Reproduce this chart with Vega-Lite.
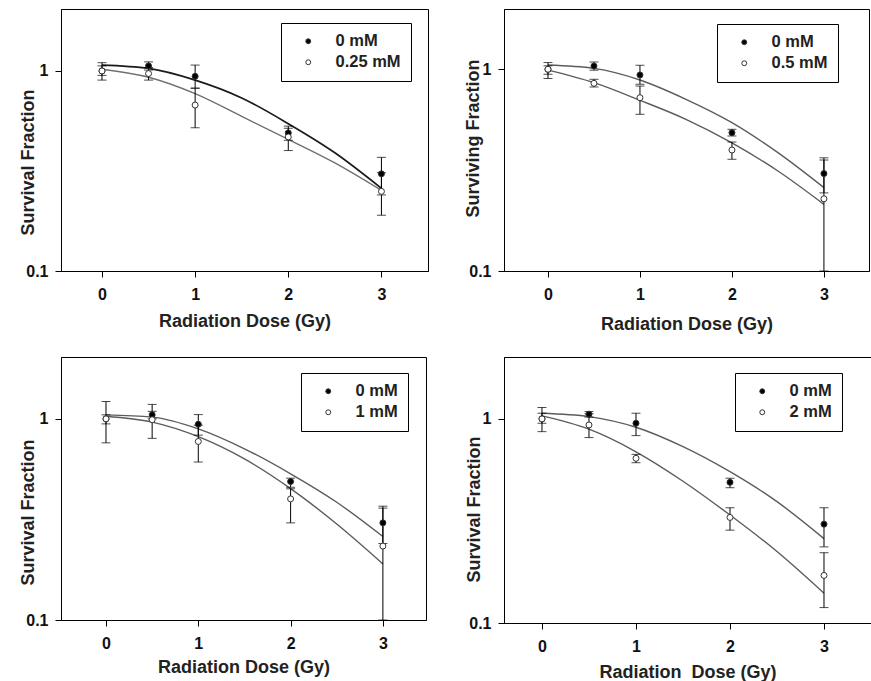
{
  "$schema": "https://vega.github.io/schema/vega-lite/v6.json",
  "padding": {"left": 18, "top": 8, "right": 0, "bottom": 0},
  "datasets": {
    "pts": [
      {"panel": 1, "series": "0 mM", "dose": 0, "sf": 1.0, "lo": 0.95, "hi": 1.06},
      {"panel": 1, "series": "0 mM", "dose": 0.5, "sf": 1.06, "lo": 1.01, "hi": 1.11},
      {"panel": 1, "series": "0 mM", "dose": 1, "sf": 0.94, "lo": 0.82, "hi": 1.07},
      {"panel": 1, "series": "0 mM", "dose": 2, "sf": 0.49, "lo": 0.45, "hi": 0.53},
      {"panel": 1, "series": "0 mM", "dose": 3, "sf": 0.306, "lo": 0.24, "hi": 0.37},
      {"panel": 1, "series": "0.25 mM", "dose": 0, "sf": 1.0, "lo": 0.9, "hi": 1.1},
      {"panel": 1, "series": "0.25 mM", "dose": 0.5, "sf": 0.97, "lo": 0.9, "hi": 1.04},
      {"panel": 1, "series": "0.25 mM", "dose": 1, "sf": 0.675, "lo": 0.52, "hi": 0.82},
      {"panel": 1, "series": "0.25 mM", "dose": 2, "sf": 0.468, "lo": 0.4, "hi": 0.517},
      {"panel": 1, "series": "0.25 mM", "dose": 3, "sf": 0.25, "lo": 0.19, "hi": 0.31},
      {"panel": 2, "series": "0 mM", "dose": 0, "sf": 1.0, "lo": 0.945, "hi": 1.04},
      {"panel": 2, "series": "0 mM", "dose": 0.5, "sf": 1.038, "lo": 0.99, "hi": 1.087},
      {"panel": 2, "series": "0 mM", "dose": 1, "sf": 0.937, "lo": 0.843, "hi": 1.047},
      {"panel": 2, "series": "0 mM", "dose": 2, "sf": 0.485, "lo": 0.467, "hi": 0.504},
      {"panel": 2, "series": "0 mM", "dose": 3, "sf": 0.304, "lo": 0.244, "hi": 0.364},
      {"panel": 2, "series": "0.5 mM", "dose": 0, "sf": 1.0, "lo": 0.9, "hi": 1.08},
      {"panel": 2, "series": "0.5 mM", "dose": 0.5, "sf": 0.852, "lo": 0.817, "hi": 0.892},
      {"panel": 2, "series": "0.5 mM", "dose": 1, "sf": 0.723, "lo": 0.598, "hi": 0.826},
      {"panel": 2, "series": "0.5 mM", "dose": 2, "sf": 0.398, "lo": 0.358, "hi": 0.436},
      {"panel": 2, "series": "0.5 mM", "dose": 3, "sf": 0.228, "lo": 0.1, "hi": 0.355},
      {"panel": 3, "series": "0 mM", "dose": 0, "sf": 1.0, "lo": 0.944, "hi": 1.047},
      {"panel": 3, "series": "0 mM", "dose": 0.5, "sf": 1.047, "lo": 1.0, "hi": 1.09},
      {"panel": 3, "series": "0 mM", "dose": 1, "sf": 0.94, "lo": 0.83, "hi": 1.05},
      {"panel": 3, "series": "0 mM", "dose": 2, "sf": 0.488, "lo": 0.457, "hi": 0.507},
      {"panel": 3, "series": "0 mM", "dose": 3, "sf": 0.304, "lo": 0.24, "hi": 0.368},
      {"panel": 3, "series": "1 mM", "dose": 0, "sf": 1.0, "lo": 0.76, "hi": 1.22},
      {"panel": 3, "series": "1 mM", "dose": 0.5, "sf": 0.99, "lo": 0.8, "hi": 1.18},
      {"panel": 3, "series": "1 mM", "dose": 1, "sf": 0.772, "lo": 0.61, "hi": 0.93},
      {"panel": 3, "series": "1 mM", "dose": 2, "sf": 0.4, "lo": 0.304, "hi": 0.449},
      {"panel": 3, "series": "1 mM", "dose": 3, "sf": 0.233, "lo": 0.1, "hi": 0.36},
      {"panel": 4, "series": "0 mM", "dose": 0, "sf": 1.0, "lo": 0.952, "hi": 1.066},
      {"panel": 4, "series": "0 mM", "dose": 0.5, "sf": 1.054, "lo": 1.02, "hi": 1.086},
      {"panel": 4, "series": "0 mM", "dose": 1, "sf": 0.952, "lo": 0.828, "hi": 1.066},
      {"panel": 4, "series": "0 mM", "dose": 2, "sf": 0.489, "lo": 0.46, "hi": 0.512},
      {"panel": 4, "series": "0 mM", "dose": 3, "sf": 0.305, "lo": 0.236, "hi": 0.367},
      {"panel": 4, "series": "2 mM", "dose": 0, "sf": 1.0, "lo": 0.866, "hi": 1.137},
      {"panel": 4, "series": "2 mM", "dose": 0.5, "sf": 0.934, "lo": 0.81, "hi": 1.06},
      {"panel": 4, "series": "2 mM", "dose": 1, "sf": 0.641, "lo": 0.61, "hi": 0.67},
      {"panel": 4, "series": "2 mM", "dose": 2, "sf": 0.329, "lo": 0.285, "hi": 0.367},
      {"panel": 4, "series": "2 mM", "dose": 3, "sf": 0.171, "lo": 0.119, "hi": 0.221}
    ],
    "fit": [
      {"panel": 1, "series": "0 mM", "dose": 0, "sf": 1.07},
      {"panel": 1, "series": "0 mM", "dose": 0.5, "sf": 1.03},
      {"panel": 1, "series": "0 mM", "dose": 1, "sf": 0.9},
      {"panel": 1, "series": "0 mM", "dose": 1.5, "sf": 0.733},
      {"panel": 1, "series": "0 mM", "dose": 2, "sf": 0.545},
      {"panel": 1, "series": "0 mM", "dose": 2.5, "sf": 0.39},
      {"panel": 1, "series": "0 mM", "dose": 3, "sf": 0.259},
      {"panel": 1, "series": "0.25 mM", "dose": 0, "sf": 1.02},
      {"panel": 1, "series": "0.25 mM", "dose": 0.5, "sf": 0.93},
      {"panel": 1, "series": "0.25 mM", "dose": 1, "sf": 0.77},
      {"panel": 1, "series": "0.25 mM", "dose": 1.5, "sf": 0.593},
      {"panel": 1, "series": "0.25 mM", "dose": 2, "sf": 0.455},
      {"panel": 1, "series": "0.25 mM", "dose": 2.5, "sf": 0.347},
      {"panel": 1, "series": "0.25 mM", "dose": 3, "sf": 0.253},
      {"panel": 2, "series": "0 mM", "dose": 0, "sf": 1.05},
      {"panel": 2, "series": "0 mM", "dose": 0.5, "sf": 1.01},
      {"panel": 2, "series": "0 mM", "dose": 1, "sf": 0.885},
      {"panel": 2, "series": "0 mM", "dose": 1.5, "sf": 0.71},
      {"panel": 2, "series": "0 mM", "dose": 2, "sf": 0.544},
      {"panel": 2, "series": "0 mM", "dose": 2.5, "sf": 0.386},
      {"panel": 2, "series": "0 mM", "dose": 3, "sf": 0.259},
      {"panel": 2, "series": "0.5 mM", "dose": 0, "sf": 0.99},
      {"panel": 2, "series": "0.5 mM", "dose": 0.5, "sf": 0.858},
      {"panel": 2, "series": "0.5 mM", "dose": 1, "sf": 0.702},
      {"panel": 2, "series": "0.5 mM", "dose": 1.5, "sf": 0.565},
      {"panel": 2, "series": "0.5 mM", "dose": 2, "sf": 0.432},
      {"panel": 2, "series": "0.5 mM", "dose": 2.5, "sf": 0.313},
      {"panel": 2, "series": "0.5 mM", "dose": 3, "sf": 0.214},
      {"panel": 3, "series": "0 mM", "dose": 0, "sf": 1.047},
      {"panel": 3, "series": "0 mM", "dose": 0.5, "sf": 1.02},
      {"panel": 3, "series": "0 mM", "dose": 1, "sf": 0.892},
      {"panel": 3, "series": "0 mM", "dose": 1.5, "sf": 0.71},
      {"panel": 3, "series": "0 mM", "dose": 2, "sf": 0.533},
      {"panel": 3, "series": "0 mM", "dose": 2.5, "sf": 0.385},
      {"panel": 3, "series": "0 mM", "dose": 3, "sf": 0.26},
      {"panel": 3, "series": "1 mM", "dose": 0, "sf": 1.03},
      {"panel": 3, "series": "1 mM", "dose": 0.5, "sf": 0.963},
      {"panel": 3, "series": "1 mM", "dose": 1, "sf": 0.815},
      {"panel": 3, "series": "1 mM", "dose": 1.5, "sf": 0.632},
      {"panel": 3, "series": "1 mM", "dose": 2, "sf": 0.45},
      {"panel": 3, "series": "1 mM", "dose": 2.5, "sf": 0.3},
      {"panel": 3, "series": "1 mM", "dose": 3, "sf": 0.19},
      {"panel": 4, "series": "0 mM", "dose": 0, "sf": 1.066},
      {"panel": 4, "series": "0 mM", "dose": 0.5, "sf": 1.026},
      {"panel": 4, "series": "0 mM", "dose": 1, "sf": 0.91},
      {"panel": 4, "series": "0 mM", "dose": 1.5, "sf": 0.731},
      {"panel": 4, "series": "0 mM", "dose": 2, "sf": 0.551},
      {"panel": 4, "series": "0 mM", "dose": 2.5, "sf": 0.393},
      {"panel": 4, "series": "0 mM", "dose": 3, "sf": 0.259},
      {"panel": 4, "series": "2 mM", "dose": 0, "sf": 1.034},
      {"panel": 4, "series": "2 mM", "dose": 0.5, "sf": 0.89},
      {"panel": 4, "series": "2 mM", "dose": 1, "sf": 0.69},
      {"panel": 4, "series": "2 mM", "dose": 1.5, "sf": 0.495},
      {"panel": 4, "series": "2 mM", "dose": 2, "sf": 0.338},
      {"panel": 4, "series": "2 mM", "dose": 2.5, "sf": 0.224},
      {"panel": 4, "series": "2 mM", "dose": 3, "sf": 0.14}
    ]
  },
  "columns": 2,
  "align": "each",
  "bounds": "flush",
  "spacing": {"row": 86, "column": 76},
  "resolve": {
    "scale": {"x": "independent", "y": "independent", "fill": "independent"},
    "axis": {"x": "independent", "y": "independent"},
    "legend": {"fill": "independent"}
  },
  "concat": [
    {
      "width": 367,
      "height": 262,
      "encoding": {
        "x": {"field": "dose", "type": "quantitative", "scale": {"domain": [-0.44, 3.5], "nice": false, "zero": false}, "axis": {"title": "Radiation Dose (Gy)", "values": [0, 1, 2, 3], "format": "d", "titleBaseline": "middle", "titleY": 50}}
      },
      "layer": [
        {
          "data": {"name": "fit"},
          "transform": [{"filter": "datum.panel == 1 && datum.series == '0.25 mM'"}],
          "mark": {"type": "line", "interpolate": "monotone", "strokeWidth": 1.4, "color": "#707070"},
          "encoding": {
            "y": {"field": "sf", "type": "quantitative", "scale": {"type": "log", "domain": [0.1, 2.04], "nice": false}, "axis": {"title": "Survival Fraction", "values": [0.1, 1], "format": "~g", "titleBaseline": "middle", "titleX": -33, "titleY": 153}}
          }
        },
        {
          "data": {"name": "fit"},
          "transform": [{"filter": "datum.panel == 1 && datum.series == '0 mM'"}],
          "mark": {"type": "line", "interpolate": "monotone", "strokeWidth": 1.7, "color": "#1a1a1a"},
          "encoding": {
            "y": {"field": "sf", "type": "quantitative", "scale": {"type": "log", "domain": [0.1, 2.04], "nice": false}, "axis": {"title": "Survival Fraction", "values": [0.1, 1], "format": "~g", "titleBaseline": "middle", "titleX": -33, "titleY": 153}}
          }
        },
        {
          "data": {"name": "pts"},
          "transform": [{"filter": "datum.panel == 1"}],
          "mark": {"type": "rule", "color": "black", "strokeWidth": 1},
          "encoding": {
            "y": {"field": "lo", "type": "quantitative", "scale": {"type": "log", "domain": [0.1, 2.04], "nice": false}, "axis": {"title": "Survival Fraction", "values": [0.1, 1], "format": "~g", "titleBaseline": "middle", "titleX": -33, "titleY": 153}},
            "y2": {"field": "hi"}
          }
        },
        {
          "data": {"name": "pts"},
          "transform": [{"filter": "datum.panel == 1"}],
          "mark": {"type": "tick", "orient": "horizontal", "size": 9, "thickness": 1, "color": "black"},
          "encoding": {
            "y": {"field": "lo", "type": "quantitative", "scale": {"type": "log", "domain": [0.1, 2.04], "nice": false}, "axis": {"title": "Survival Fraction", "values": [0.1, 1], "format": "~g", "titleBaseline": "middle", "titleX": -33, "titleY": 153}}
          }
        },
        {
          "data": {"name": "pts"},
          "transform": [{"filter": "datum.panel == 1"}],
          "mark": {"type": "tick", "orient": "horizontal", "size": 9, "thickness": 1, "color": "black"},
          "encoding": {
            "y": {"field": "hi", "type": "quantitative", "scale": {"type": "log", "domain": [0.1, 2.04], "nice": false}, "axis": {"title": "Survival Fraction", "values": [0.1, 1], "format": "~g", "titleBaseline": "middle", "titleX": -33, "titleY": 153}}
          }
        },
        {
          "data": {"name": "pts"},
          "transform": [{"filter": "datum.panel == 1"}],
          "mark": {"type": "point", "shape": "circle", "filled": true, "size": 36, "stroke": "#333", "strokeWidth": 1, "opacity": 1},
          "encoding": {
            "y": {"field": "sf", "type": "quantitative", "scale": {"type": "log", "domain": [0.1, 2.04], "nice": false}, "axis": {"title": "Survival Fraction", "values": [0.1, 1], "format": "~g", "titleBaseline": "middle", "titleX": -33, "titleY": 153}},
            "fill": {"field": "series", "type": "nominal", "scale": {"domain": ["0 mM", "0.25 mM"], "range": ["black", "white"]}, "legend": {"title": null, "orient": "none", "legendX": 220, "legendY": 14}}
          }
        }
      ]
    },
    {
      "width": 365,
      "height": 262,
      "encoding": {
        "x": {"field": "dose", "type": "quantitative", "scale": {"domain": [-0.478, 3.49], "nice": false, "zero": false}, "axis": {"title": "Radiation Dose (Gy)", "values": [0, 1, 2, 3], "format": "d", "titleBaseline": "middle", "titleY": 53}}
      },
      "layer": [
        {
          "data": {"name": "fit"},
          "transform": [{"filter": "datum.panel == 2"}],
          "mark": {"type": "line", "interpolate": "monotone", "strokeWidth": 1.4, "color": "#5c5c5c"},
          "encoding": {
            "y": {"field": "sf", "type": "quantitative", "scale": {"type": "log", "domain": [0.1, 1.99], "nice": false}, "axis": {"title": "Surviving Fraction", "values": [0.1, 1], "format": "~g", "titleBaseline": "middle", "titleX": -31, "titleY": 129}},
            "detail": {"field": "series", "type": "nominal"}
          }
        },
        {
          "data": {"name": "pts"},
          "transform": [{"filter": "datum.panel == 2"}],
          "mark": {"type": "rule", "color": "black", "strokeWidth": 1},
          "encoding": {
            "y": {"field": "lo", "type": "quantitative", "scale": {"type": "log", "domain": [0.1, 1.99], "nice": false}, "axis": {"title": "Surviving Fraction", "values": [0.1, 1], "format": "~g", "titleBaseline": "middle", "titleX": -31, "titleY": 129}},
            "y2": {"field": "hi"}
          }
        },
        {
          "data": {"name": "pts"},
          "transform": [{"filter": "datum.panel == 2"}],
          "mark": {"type": "tick", "orient": "horizontal", "size": 9, "thickness": 1, "color": "black"},
          "encoding": {
            "y": {"field": "lo", "type": "quantitative", "scale": {"type": "log", "domain": [0.1, 1.99], "nice": false}, "axis": {"title": "Surviving Fraction", "values": [0.1, 1], "format": "~g", "titleBaseline": "middle", "titleX": -31, "titleY": 129}}
          }
        },
        {
          "data": {"name": "pts"},
          "transform": [{"filter": "datum.panel == 2"}],
          "mark": {"type": "tick", "orient": "horizontal", "size": 9, "thickness": 1, "color": "black"},
          "encoding": {
            "y": {"field": "hi", "type": "quantitative", "scale": {"type": "log", "domain": [0.1, 1.99], "nice": false}, "axis": {"title": "Surviving Fraction", "values": [0.1, 1], "format": "~g", "titleBaseline": "middle", "titleX": -31, "titleY": 129}}
          }
        },
        {
          "data": {"name": "pts"},
          "transform": [{"filter": "datum.panel == 2"}],
          "mark": {"type": "point", "shape": "circle", "filled": true, "size": 36, "stroke": "#333", "strokeWidth": 1, "opacity": 1},
          "encoding": {
            "y": {"field": "sf", "type": "quantitative", "scale": {"type": "log", "domain": [0.1, 1.99], "nice": false}, "axis": {"title": "Surviving Fraction", "values": [0.1, 1], "format": "~g", "titleBaseline": "middle", "titleX": -31, "titleY": 129}},
            "fill": {"field": "series", "type": "nominal", "scale": {"domain": ["0 mM", "0.5 mM"], "range": ["black", "white"]}, "legend": {"title": null, "orient": "none", "legendX": 213, "legendY": 15}}
          }
        }
      ]
    },
    {
      "width": 365,
      "height": 263,
      "encoding": {
        "x": {"field": "dose", "type": "quantitative", "scale": {"domain": [-0.4875, 3.467], "nice": false, "zero": false}, "axis": {"title": "Radiation Dose (Gy)", "values": [0, 1, 2, 3], "format": "d", "titleBaseline": "middle", "titleY": 47}}
      },
      "layer": [
        {
          "data": {"name": "fit"},
          "transform": [{"filter": "datum.panel == 3"}],
          "mark": {"type": "line", "interpolate": "monotone", "strokeWidth": 1.4, "color": "#5c5c5c"},
          "encoding": {
            "y": {"field": "sf", "type": "quantitative", "scale": {"type": "log", "domain": [0.1, 2.03], "nice": false}, "axis": {"title": "Survival Fraction", "values": [0.1, 1], "format": "~g", "titleBaseline": "middle", "titleX": -33, "titleY": 155}},
            "detail": {"field": "series", "type": "nominal"}
          }
        },
        {
          "data": {"name": "pts"},
          "transform": [{"filter": "datum.panel == 3"}],
          "mark": {"type": "rule", "color": "black", "strokeWidth": 1},
          "encoding": {
            "y": {"field": "lo", "type": "quantitative", "scale": {"type": "log", "domain": [0.1, 2.03], "nice": false}, "axis": {"title": "Survival Fraction", "values": [0.1, 1], "format": "~g", "titleBaseline": "middle", "titleX": -33, "titleY": 155}},
            "y2": {"field": "hi"}
          }
        },
        {
          "data": {"name": "pts"},
          "transform": [{"filter": "datum.panel == 3"}],
          "mark": {"type": "tick", "orient": "horizontal", "size": 9, "thickness": 1, "color": "black"},
          "encoding": {
            "y": {"field": "lo", "type": "quantitative", "scale": {"type": "log", "domain": [0.1, 2.03], "nice": false}, "axis": {"title": "Survival Fraction", "values": [0.1, 1], "format": "~g", "titleBaseline": "middle", "titleX": -33, "titleY": 155}}
          }
        },
        {
          "data": {"name": "pts"},
          "transform": [{"filter": "datum.panel == 3"}],
          "mark": {"type": "tick", "orient": "horizontal", "size": 9, "thickness": 1, "color": "black"},
          "encoding": {
            "y": {"field": "hi", "type": "quantitative", "scale": {"type": "log", "domain": [0.1, 2.03], "nice": false}, "axis": {"title": "Survival Fraction", "values": [0.1, 1], "format": "~g", "titleBaseline": "middle", "titleX": -33, "titleY": 155}}
          }
        },
        {
          "data": {"name": "pts"},
          "transform": [{"filter": "datum.panel == 3"}],
          "mark": {"type": "point", "shape": "circle", "filled": true, "size": 36, "stroke": "#333", "strokeWidth": 1, "opacity": 1},
          "encoding": {
            "y": {"field": "sf", "type": "quantitative", "scale": {"type": "log", "domain": [0.1, 2.03], "nice": false}, "axis": {"title": "Survival Fraction", "values": [0.1, 1], "format": "~g", "titleBaseline": "middle", "titleX": -33, "titleY": 155}},
            "fill": {"field": "series", "type": "nominal", "scale": {"domain": ["0 mM", "1 mM"], "range": ["black", "white"]}, "legend": {"title": null, "orient": "none", "legendX": 240, "legendY": 16}}
          }
        }
      ]
    },
    {
      "width": 367,
      "height": 266,
      "encoding": {
        "x": {"field": "dose", "type": "quantitative", "scale": {"domain": [-0.404, 3.5], "nice": false, "zero": false}, "axis": {"title": "Radiation\u00a0 Dose (Gy)", "values": [0, 1, 2, 3], "format": "d", "titleBaseline": "middle", "titleY": 49}}
      },
      "layer": [
        {
          "data": {"name": "fit"},
          "transform": [{"filter": "datum.panel == 4"}],
          "mark": {"type": "line", "interpolate": "monotone", "strokeWidth": 1.4, "color": "#5c5c5c"},
          "encoding": {
            "y": {"field": "sf", "type": "quantitative", "scale": {"type": "log", "domain": [0.1, 2.01], "nice": false}, "axis": {"title": "Survival Fraction", "values": [0.1, 1], "format": "~g", "titleBaseline": "middle", "titleX": -30, "titleY": 152}},
            "detail": {"field": "series", "type": "nominal"}
          }
        },
        {
          "data": {"name": "pts"},
          "transform": [{"filter": "datum.panel == 4"}],
          "mark": {"type": "rule", "color": "black", "strokeWidth": 1},
          "encoding": {
            "y": {"field": "lo", "type": "quantitative", "scale": {"type": "log", "domain": [0.1, 2.01], "nice": false}, "axis": {"title": "Survival Fraction", "values": [0.1, 1], "format": "~g", "titleBaseline": "middle", "titleX": -30, "titleY": 152}},
            "y2": {"field": "hi"}
          }
        },
        {
          "data": {"name": "pts"},
          "transform": [{"filter": "datum.panel == 4"}],
          "mark": {"type": "tick", "orient": "horizontal", "size": 9, "thickness": 1, "color": "black"},
          "encoding": {
            "y": {"field": "lo", "type": "quantitative", "scale": {"type": "log", "domain": [0.1, 2.01], "nice": false}, "axis": {"title": "Survival Fraction", "values": [0.1, 1], "format": "~g", "titleBaseline": "middle", "titleX": -30, "titleY": 152}}
          }
        },
        {
          "data": {"name": "pts"},
          "transform": [{"filter": "datum.panel == 4"}],
          "mark": {"type": "tick", "orient": "horizontal", "size": 9, "thickness": 1, "color": "black"},
          "encoding": {
            "y": {"field": "hi", "type": "quantitative", "scale": {"type": "log", "domain": [0.1, 2.01], "nice": false}, "axis": {"title": "Survival Fraction", "values": [0.1, 1], "format": "~g", "titleBaseline": "middle", "titleX": -30, "titleY": 152}}
          }
        },
        {
          "data": {"name": "pts"},
          "transform": [{"filter": "datum.panel == 4"}],
          "mark": {"type": "point", "shape": "circle", "filled": true, "size": 36, "stroke": "#333", "strokeWidth": 1, "opacity": 1},
          "encoding": {
            "y": {"field": "sf", "type": "quantitative", "scale": {"type": "log", "domain": [0.1, 2.01], "nice": false}, "axis": {"title": "Survival Fraction", "values": [0.1, 1], "format": "~g", "titleBaseline": "middle", "titleX": -30, "titleY": 152}},
            "fill": {"field": "series", "type": "nominal", "scale": {"domain": ["0 mM", "2 mM"], "range": ["black", "white"]}, "legend": {"title": null, "orient": "none", "legendX": 231, "legendY": 16}}
          }
        }
      ]
    }
  ],
  "config": {
    "background": "white",
    "font": "Liberation Sans",
    "view": {"stroke": "black", "strokeWidth": 1},
    "axis": {
      "grid": false,
      "domainColor": "black",
      "domainWidth": 1,
      "tickColor": "black",
      "tickWidth": 1,
      "tickSize": 6,
      "labelFont": "Liberation Sans",
      "labelFontSize": 16,
      "labelFontWeight": "bold",
      "labelColor": "#111",
      "labelFlush": false,
      "labelOverlap": false,
      "titleFont": "Liberation Sans",
      "titleFontSize": 18,
      "titleFontWeight": "bold",
      "titleColor": "#222"
    },
    "axisX": {"labelPadding": 9},
    "axisY": {"labelPadding": 7},
    "legend": {
      "padding": 10,
      "strokeColor": "black",
      "strokeWidth": 1,
      "symbolType": "circle",
      "symbolSize": 24,
      "symbolStrokeColor": "#333",
      "symbolStrokeWidth": 1,
      "symbolOffset": 9,
      "labelOffset": 19,
      "rowPadding": 4,
      "labelFont": "Liberation Sans",
      "labelFontSize": 16.5,
      "labelFontWeight": "bold",
      "labelColor": "#222"
    }
  }
}
